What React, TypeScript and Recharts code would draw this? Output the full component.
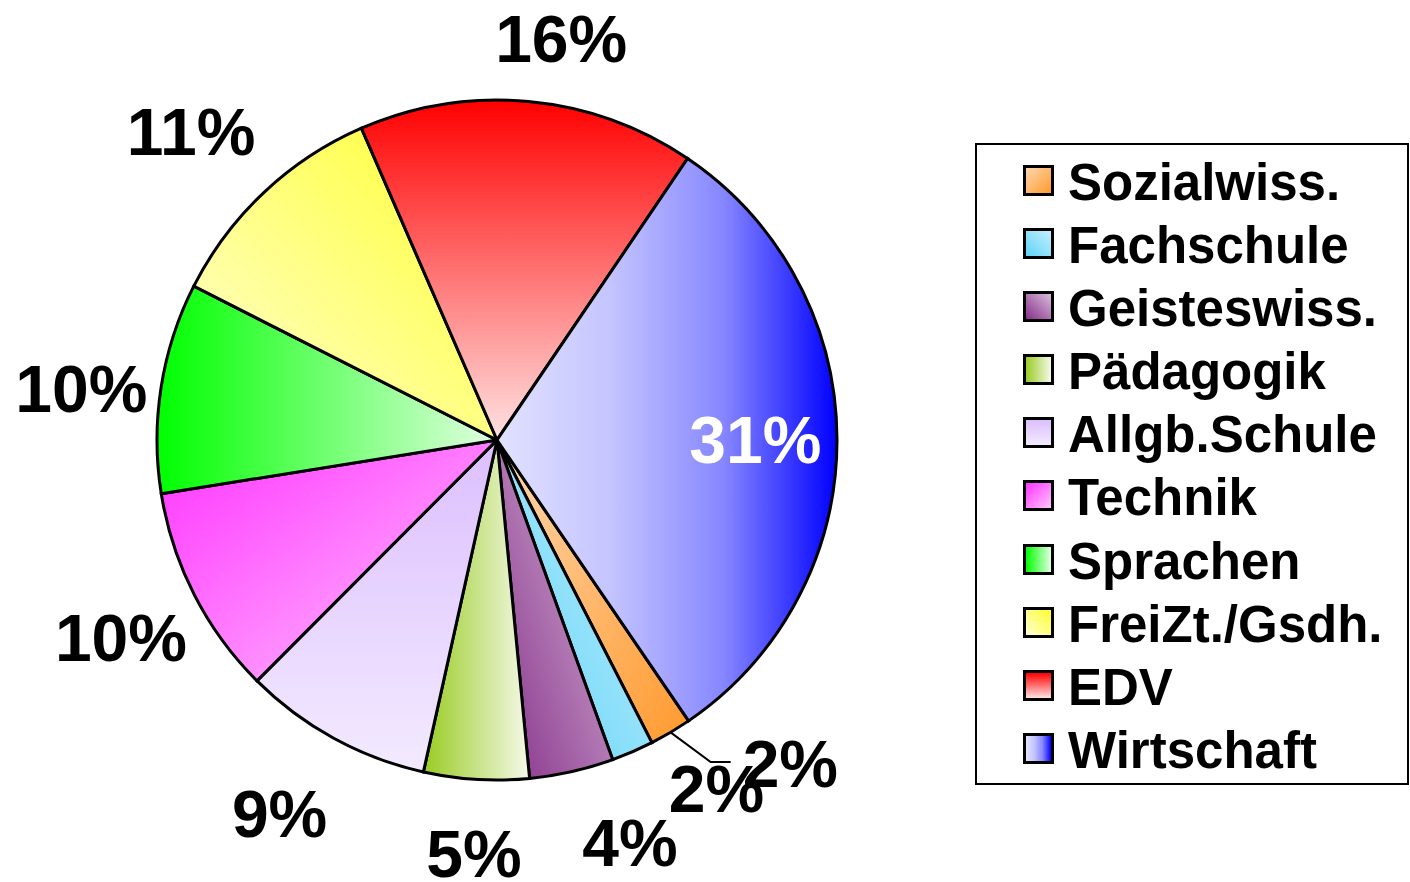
import { PieChart, Pie, Cell, Legend } from "recharts";

// categories in drawing order (clockwise from the lower right)
const categories = [
  "Sozialwiss.",
  "Fachschule",
  "Geisteswiss.",
  "Pädagogik",
  "Allgb.Schule",
  "Technik",
  "Sprachen",
  "FreiZt./Gsdh.",
  "EDV",
  "Wirtschaft",
];

// share in percent
const shares = [2, 2, 4, 5, 9, 10, 10, 11, 16, 31];

const data = categories.map((name, i) => ({ name, value: shares[i] }));

// fill gradients per slice: [x1, y1, x2, y2] in bounding box units
const gradients = [
  { stops: ["#FFD7AE", "#FF9A2E"], dir: [0, 0, 1, 1] },
  { stops: ["#5FD2F6", "#C4F0FF"], dir: [0, 1, 1, 0] },
  { stops: ["#86308A", "#D9BCD9"], dir: [0, 1, 1, 0] },
  { stops: ["#99CC22", "#F6F9EA"], dir: [0, 0, 1, 0] },
  { stops: ["#DCBFFF", "#F3EAFF"], dir: [0, 0, 0, 1] },
  { stops: ["#FF33FF", "#FFC4FF"], dir: [0, 0, 1, 1] },
  { stops: ["#00FF00", "#E2FFE2"], dir: [0, 0, 1, 0] },
  { stops: ["#FFFF2E", "#FFFFD6"], dir: [1, 0, 0, 1] },
  { stops: ["#FF0000", "#FFE2E2"], dir: [0, 0, 0, 1] },
  { stops: ["#E2E2FF", "#C4C4FF", "#8686FF", "#0000FF"], dir: [0, 0, 1, 0] },
];

// label tweaks (Excel moved some labels to avoid overlaps)
const labelNudge = [
  [75, -24],
  [49, -22],
  [39, 9],
  [3, 10],
  [-12, 19],
  [21, 14],
  [25, 11],
  [0, -15],
  [23, 0],
  [0, 0],
];
const leaderIndex = 0;
const insideIndex = 9;

const FONT = '"Liberation Sans", Arial, Helvetica, sans-serif';
const LABEL_SIZE = 66;
const RAD = Math.PI / 180;

function cssDir(d: number[]) {
  const k = d.join("");
  if (k === "0010") return "to right";
  if (k === "0001") return "to bottom";
  if (k === "0011") return "to bottom right";
  if (k === "0110") return "to top right";
  if (k === "1001") return "to bottom left";
  return "to right";
}

function renderLabel(props: any) {
  const { cx, cy, midAngle, outerRadius, index, value } = props;
  const text = `${value}%`;
  const cos = Math.cos(midAngle * RAD);
  const sin = Math.sin(midAngle * RAD);
  const capHalf = (LABEL_SIZE * 0.716) / 2;

  if (index === insideIndex) {
    const r = outerRadius * 0.76;
    return (
      <text
        x={cx + r * cos}
        y={cy - r * sin + capHalf}
        textAnchor="middle"
        fill="#FFFFFF"
        fontSize={LABEL_SIZE}
        fontWeight={700}
        fontFamily={FONT}
      >
        {text}
      </text>
    );
  }

  const halfW = (LABEL_SIZE * (0.556 * String(value).length + 0.889)) / 2;
  const r = outerRadius + 40;
  const [dx, dy] = labelNudge[index];
  const lx = cx + r * cos + halfW * cos + dx;
  const ly = cy - r * sin - capHalf * sin + dy;

  let leader = null;
  if (index === leaderIndex) {
    const sx = cx + outerRadius * cos;
    const sy = cy - outerRadius * sin;
    const left = lx - halfW;
    leader = (
      <polyline
        points={`${sx},${sy} ${left - 32},${ly - 1} ${left - 12},${ly - 1}`}
        fill="none"
        stroke="#000"
        strokeWidth={2}
      />
    );
  }

  return (
    <g>
      {leader}
      <text
        x={lx}
        y={ly + capHalf}
        textAnchor="middle"
        fill="#000000"
        fontSize={LABEL_SIZE}
        fontWeight={700}
        fontFamily={FONT}
      >
        {text}
      </text>
    </g>
  );
}

function renderLegend() {
  return (
    <div
      style={{
        boxSizing: "border-box",
        width: 434,
        height: 642,
        border: "2px solid #000",
        background: "#fff",
        paddingTop: 6,
      }}
    >
      {categories.map((c, i) => (
        <div key={c} style={{ position: "relative", height: 63.1 }}>
          <div
            style={{
              position: "absolute",
              left: 46,
              top: 14,
              width: 31,
              height: 31,
              boxSizing: "border-box",
              border: "3px solid #000",
              background: `linear-gradient(${cssDir(gradients[i].dir)}, ${gradients[i].stops.join(", ")})`,
            }}
          />
          <span
            style={{
              position: "absolute",
              left: 91,
              top: 0,
              lineHeight: "63.1px",
              fontSize: 51,
              fontWeight: 700,
              fontFamily: FONT,
              color: "#000",
              whiteSpace: "nowrap",
            }}
          >
            {c}
          </span>
        </div>
      ))}
    </div>
  );
}

export default function App() {
  return (
    <div
      style={{
        position: "absolute",
        left: 0,
        top: 0,
        width: 1410,
        height: 882,
        background: "#fff",
      }}
    >
      <PieChart width={1410} height={882} margin={{ top: 0, right: 0, bottom: 0, left: 0 }}>
        <defs>
          {gradients.map((g, i) => (
            <linearGradient
              key={i}
              id={`slice-${i}`}
              x1={g.dir[0]}
              y1={g.dir[1]}
              x2={g.dir[2]}
              y2={g.dir[3]}
            >
              {g.stops.map((s, k) => (
                <stop key={k} offset={`${(k / (g.stops.length - 1)) * 100}%`} stopColor={s} />
              ))}
            </linearGradient>
          ))}
        </defs>
        <Pie
          data={data}
          dataKey="value"
          nameKey="name"
          cx={497}
          cy={440}
          outerRadius={340}
          startAngle={-55.7}
          endAngle={-415.7}
          stroke="#000"
          strokeWidth={3}
          label={renderLabel}
          labelLine={false}
          isAnimationActive={false}
        >
          {data.map((d, i) => (
            <Cell key={d.name} fill={`url(#slice-${i})`} stroke="#000" strokeWidth={3} />
          ))}
        </Pie>
        <Legend
          content={renderLegend}
          wrapperStyle={{ position: "absolute", left: 975, top: 143, width: 434, height: 642 }}
        />
      </PieChart>
    </div>
  );
}
